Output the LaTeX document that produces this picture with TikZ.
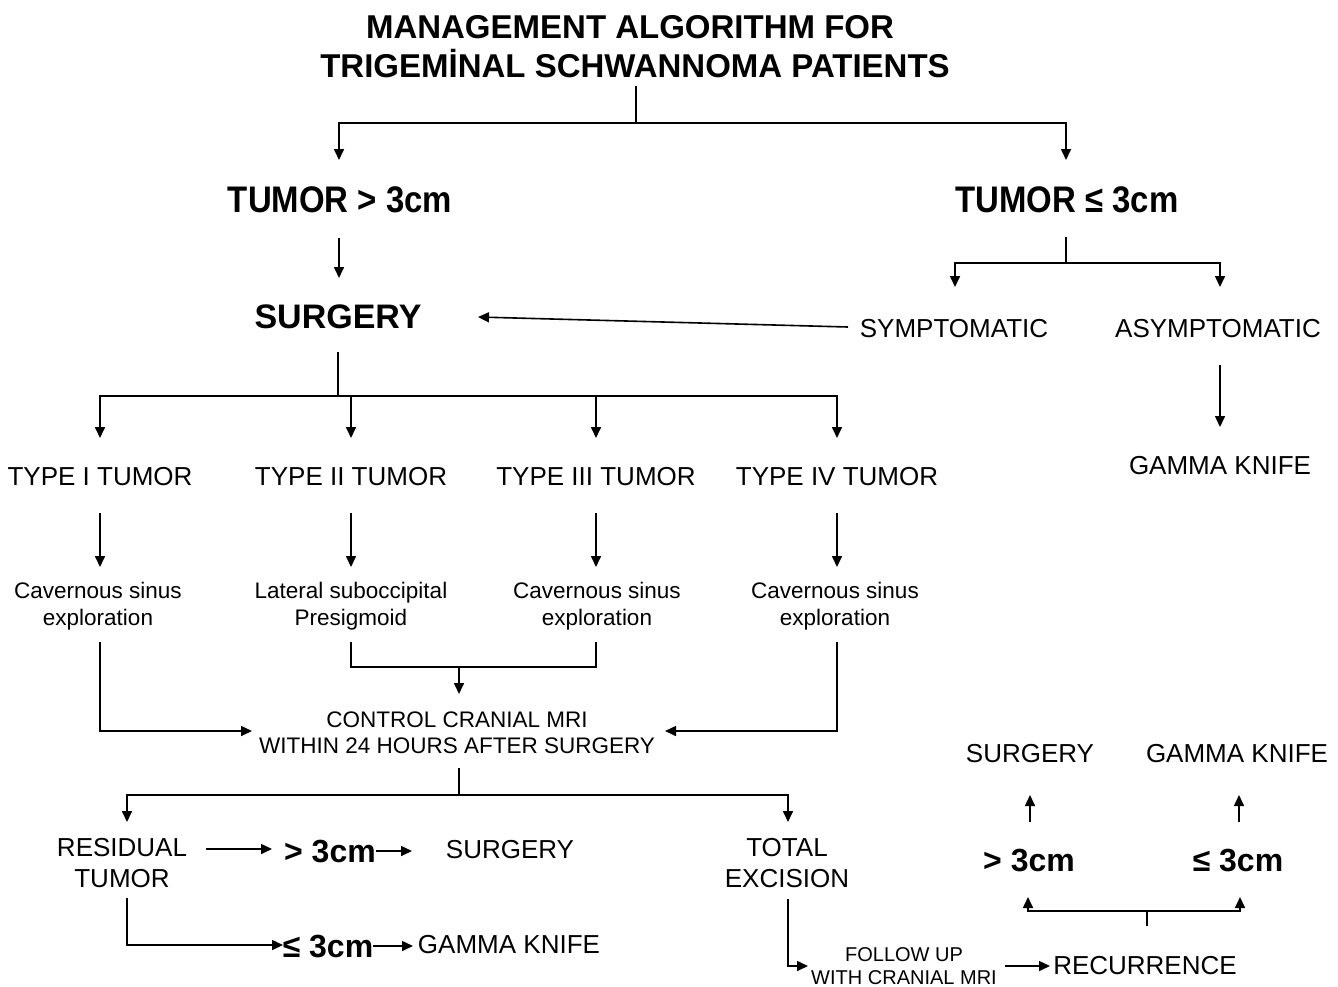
\documentclass[tikz,border=0pt]{standalone}
\usepackage{fontspec}
\setmainfont{Liberation Sans}
\newfontfamily\condsans[FakeStretch=0.89]{Liberation Sans}
\usetikzlibrary{arrows.meta}
\begin{document}
\begin{tikzpicture}[x=1pt,y=-1pt,
  ln/.style={line width=1.6pt},
  arr/.style={ln,-{Triangle[length=11pt,width=10pt]}},
  titletxt/.style={inner sep=0,font=\bfseries\fontsize{33}{36}\selectfont},
  bigtxt/.style={inner sep=0,font=\condsans\bfseries\fontsize{37}{40}\selectfont},
  midtxt/.style={inner sep=0,font=\bfseries\fontsize{34}{38}\selectfont},
  smbold/.style={inner sep=0,font=\bfseries\fontsize{32}{36}\selectfont},
  reg/.style={inner sep=0,align=center,font=\fontsize{26}{31}\selectfont},
  proc/.style={inner sep=0,align=center,font=\fontsize{22.5}{27}\selectfont},
  ctrl/.style={inner sep=0,align=center,font=\fontsize{22.5}{26}\selectfont},
  foll/.style={inner sep=0,align=center,font=\fontsize{20}{23}\selectfont}]
\useasboundingbox (0,0) rectangle (1338,986);
\fill[white] (0,0) rectangle (1338,986);

% texts
\node[titletxt] (t1) at (630,27) {MANAGEMENT ALGORITHM FOR};
\node[titletxt] (t2) at (635,64) {TRIGEMİNAL SCHWANNOMA PATIENTS};
\node[bigtxt] (big) at (340,200) {TUMOR > 3cm};
\node[bigtxt] (small) at (1067,200) {TUMOR ≤ 3cm};
\node[midtxt] (surg1) at (338,317) {SURGERY};
\node[reg] (sym) at (954,329) {SYMPTOMATIC};
\node[reg] (asym) at (1218,329) {ASYMPTOMATIC};
\node[reg] (gk1) at (1220,466) {GAMMA KNIFE};
\node[reg] (ty1) at (100,477) {TYPE I TUMOR};
\node[reg] (ty2) at (351,477) {TYPE II TUMOR};
\node[reg] (ty3) at (596,477) {TYPE III TUMOR};
\node[reg] (ty4) at (837,477) {TYPE IV TUMOR};
\node[proc] (p1) at (98,606) {Cavernous sinus\\exploration};
\node[proc] (p2) at (351,606) {Lateral suboccipital\\Presigmoid};
\node[proc] (p3) at (597,606) {Cavernous sinus\\exploration};
\node[proc] (p4) at (835,606) {Cavernous sinus\\exploration};
\node[ctrl] (mri) at (457,733) {CONTROL CRANIAL MRI\\WITHIN 24 HOURS AFTER SURGERY};
\node[reg] (res) at (122,863) {RESIDUAL\\TUMOR};
\node[smbold] (gta) at (330,851) {> 3cm};
\node[reg] (surg2) at (510,850) {SURGERY};
\node[smbold] (lea) at (328,946) {≤ 3cm};
\node[reg] (gk2) at (509,945) {GAMMA KNIFE};
\node[reg] (tot) at (787,863) {TOTAL\\EXCISION};
\node[foll] (fol) at (904,966) {FOLLOW UP\\WITH CRANIAL MRI};
\node[reg] (rec) at (1145,966) {RECURRENCE};
\node[smbold] (gtb) at (1029,860) {> 3cm};
\node[smbold] (leb) at (1238,860) {≤ 3cm};
\node[reg] (surg3) at (1030,754) {SURGERY};
\node[reg] (gk3) at (1237,754) {GAMMA KNIFE};

% junction coordinates
\coordinate (j0s) at (636,86);
\coordinate (j0) at (636,123);
\coordinate (a1) at (339,160);
\coordinate (a2) at (1066,160);
\draw[ln] (j0s) -- (j0);
\draw[arr] (j0) -| (a1);
\draw[arr] (j0) -| (a2);

\coordinate (b1) at (339,238);
\coordinate (b2) at (339,278);
\draw[arr] (b1) -- (b2);

\coordinate (s1) at (848,327);
\coordinate (s2) at (478,317);
\draw[arr] (s1) -- (s2);

\coordinate (k0s) at (1066,237);
\coordinate (k0) at (1066,263);
\coordinate (k1) at (955,287);
\coordinate (k2) at (1220,287);
\draw[ln] (k0s) -- (k0);
\draw[arr] (k0) -| (k1);
\draw[arr] (k0) -| (k2);

\coordinate (g1) at (1220,365);
\coordinate (g2) at (1220,427);
\draw[arr] (g1) -- (g2);

\coordinate (m0s) at (338,352);
\coordinate (m0) at (338,396);
\draw[ln] (m0s) -- (m0);
\foreach \x/\n in {100/1,351/2,596/3,837/4}{
  \coordinate (ta\n) at (\x,438);
  \draw[arr] (m0) -| (ta\n);
  \coordinate (tb\n) at (\x,513);
  \coordinate (tc\n) at (\x,567);
  \draw[arr] (tb\n) -- (tc\n);
}

\coordinate (q1) at (100,642);
\coordinate (q1e) at (252,731);
\draw[arr] (q1) |- (q1e);
\coordinate (q2) at (351,642);
\coordinate (q3) at (596,642);
\coordinate (q23) at (459,667);
\coordinate (q23e) at (459,694);
\draw[ln] (q2) |- (q23) -| (q3);
\draw[arr] (q23) -- (q23e);
\coordinate (q4) at (837,642);
\coordinate (q4e) at (665,731);
\draw[arr] (q4) |- (q4e);

\coordinate (r0s) at (459,768);
\coordinate (r0) at (459,795);
\coordinate (r1) at (127,822);
\coordinate (r2) at (788,822);
\draw[ln] (r0s) -- (r0);
\draw[arr] (r0) -| (r1);
\draw[arr] (r0) -| (r2);

\coordinate (u1) at (206,849);
\coordinate (u2) at (272,849);
\draw[arr] (u1) -- (u2);
\coordinate (u3) at (376,851);
\coordinate (u4) at (412,851);
\draw[arr] (u3) -- (u4);

\coordinate (v1) at (127,898);
\coordinate (v2) at (283,945);
\draw[arr] (v1) |- (v2);
\coordinate (v3) at (373,946);
\coordinate (v4) at (413,946);
\draw[arr] (v3) -- (v4);

\coordinate (w1) at (788,899);
\coordinate (w2) at (808,966);
\draw[arr] (w1) |- (w2);
\coordinate (w3) at (1005,966);
\coordinate (w4) at (1050,966);
\draw[arr] (w3) -- (w4);

\coordinate (x0s) at (1147,926);
\coordinate (x0) at (1147,911);
\coordinate (x1) at (1028,897);
\coordinate (x2) at (1240,897);
\draw[ln] (x0s) -- (x0);
\draw[arr] (x0) -| (x1);
\draw[arr] (x0) -| (x2);

\coordinate (y1) at (1030,822);
\coordinate (y2) at (1030,795);
\draw[arr] (y1) -- (y2);
\coordinate (y3) at (1239,822);
\coordinate (y4) at (1239,795);
\draw[arr] (y3) -- (y4);
\end{tikzpicture}
\end{document}
